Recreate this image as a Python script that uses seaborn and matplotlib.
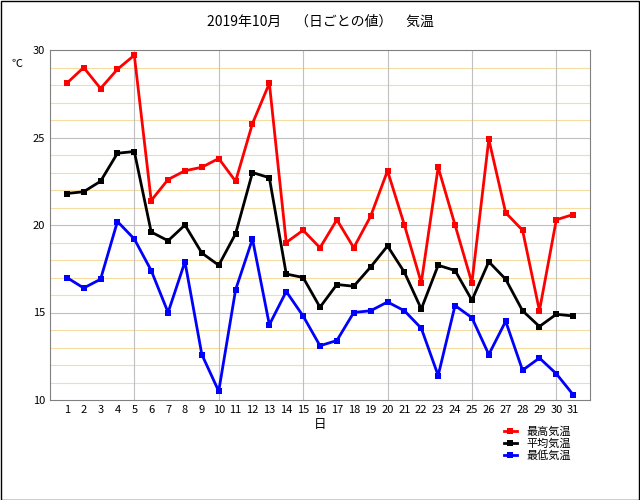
import matplotlib
matplotlib.use("Agg")
import matplotlib.pyplot as plt
import seaborn as sns
import pandas as pd
import numpy as np

days = list(range(1, 32))
t_max = [28.1,29.0,27.8,28.9,29.7,21.4,22.6,23.1,23.3,23.8,22.5,25.8,28.1,19.0,19.7,18.7,20.3,18.7,20.5,23.1,20.0,16.7,23.3,20.0,16.7,24.9,20.7,19.7,15.1,20.3,20.6]
t_avg = [21.8,21.9,22.5,24.1,24.2,19.6,19.1,20.0,18.4,17.7,19.5,23.0,22.7,17.2,17.0,15.3,16.6,16.5,17.6,18.8,17.3,15.2,17.7,17.4,15.7,17.9,16.9,15.1,14.2,14.9,14.8]
t_min = [17.0,16.4,16.9,20.2,19.2,17.4,15.0,17.9,12.6,10.5,16.3,19.2,14.3,16.2,14.8,13.1,13.4,15.0,15.1,15.6,15.1,14.1,11.4,15.4,14.7,12.6,14.5,11.7,12.4,11.5,10.3]
names = ["最高気温", "平均気温", "最低気温"]
colors = ["#ff0000", "#000000", "#0000ff"]

df = pd.DataFrame({"日": days * 3,
                   "値": t_max + t_avg + t_min,
                   "系列": sum([[n] * 31 for n in names], [])})

plt.rcParams["font.family"] = "Noto Sans CJK JP"
fig = plt.figure(figsize=(6.4, 5.0), dpi=100)
fig.patches.append(plt.Rectangle((0.001, 0.001), 0.997, 0.997, transform=fig.transFigure,
                                 fill=False, edgecolor="black", lw=1))
ax = fig.add_axes([0.078, 0.2, 0.844, 0.7])
for y in np.arange(11, 30, 1):
    if y % 5:
        ax.axhline(y, color="#f5dca0", lw=0.8, zorder=0)
for y in [15, 20, 25]:
    ax.axhline(y, color="#c0c0c0", lw=0.8, zorder=0)
for x in [5, 10, 15, 20, 25, 30]:
    ax.axvline(x, color="#c0c0c0", lw=0.8, zorder=0)

sns.lineplot(data=df, x="日", y="値", hue="系列", palette=colors, marker="s",
             markersize=5, markeredgewidth=0, linewidth=2, ax=ax, legend=True)
ax.set_xlim(0, 32)
ax.set_ylim(10, 30)
ax.set_xticks(days)
ax.set_yticks([10, 15, 20, 25, 30])
ax.tick_params(length=0, labelsize=8)
ax.set_xlabel("日", fontsize=9, labelpad=2)
ax.set_ylabel("")
ax.text(-0.072, 0.975, "℃", transform=ax.transAxes, fontsize=8, va="top")
for s in ax.spines.values():
    s.set_color("#808080")
fig.suptitle("2019年10月　（日ごとの値）　気温", y=0.97, fontsize=10)
h, l = ax.get_legend_handles_labels()
ax.legend(h, l, loc="upper left", bbox_to_anchor=(0.83, -0.06), frameon=False,
          fontsize=8, handlelength=1.2, labelspacing=0.1, borderpad=0)
fig.savefig("out.png", dpi=100)
